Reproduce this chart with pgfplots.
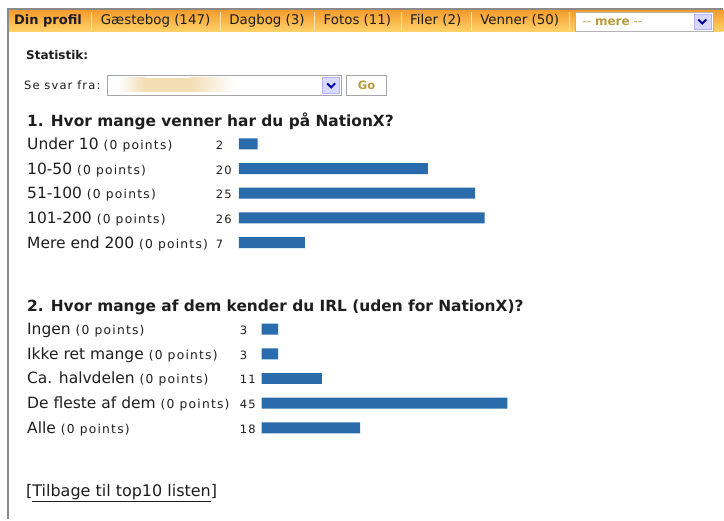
\documentclass[border=0pt]{standalone}
\usepackage{fontspec}
\setmainfont{DejaVu Sans}
\newfontfamily\smallfont{DejaVu Sans}[LetterSpace=10]
\usepackage{pgfplots}
\pgfplotsset{compat=1.18}
\usepackage{pgfplotstable}
\definecolor{barblue}{HTML}{2A6CAB}
\definecolor{navtop}{HTML}{F49B2C}
\definecolor{navbot}{HTML}{FFD36B}
\definecolor{sepcol}{HTML}{FFE6B0}
\definecolor{bordergray}{HTML}{8A8A8A}
\definecolor{txt}{HTML}{1E1E1E}
\definecolor{gold}{HTML}{B89C3C}
\definecolor{blurc}{HTML}{F3DDB5}
\newcommand\navsep{\hspace{9.5pt}{\color{sepcol}\rule[-6pt]{1pt}{19pt}}\hspace{8.5pt}}
\newcommand\pts{{\smallfont\fontsize{12.3}{14}\selectfont (0 points)}}
\newcommand\smallsz{\smallfont\fontsize{11.5}{13}\selectfont}

\pgfplotstableread{
y val
0 2
1 20
2 25
3 26
4 7
}\tableA
\pgfplotstableread{
y val
0 3
1 3
2 11
3 45
4 18
}\tableB

\pgfplotsset{
  webbar/.style={
    xbar, bar width=11pt, bar shift=0pt,
    scale only axis, height=123.5pt,
    ymin=-0.5, ymax=4.5, y dir=reverse,
    xmin=0, enlargelimits=false, clip=false,
    axis line style={draw=none}, tick style={draw=none},
    major tick length=0pt, xtick=\empty,
    ytick={0,1,2,3,4},
    yticklabel style={anchor=base west, inner sep=0pt, text=txt, font=\smallsz, yshift=-5.5pt},
  },
}

\begin{document}
\begin{tikzpicture}
\begin{scope}[x=1pt,y=1pt]
\fill[white] (0,0) rectangle (724,520);
% nav bar
\shade[top color=navtop, bottom color=navbot] (9,488) rectangle (724,510);
\draw[bordergray, line width=1.5pt] (8,0) -- (8,511) -- (724,511);
\node[anchor=base west, inner sep=0pt, text=txt, font=\fontsize{13.4}{15}\selectfont] at (14,495)
  {{\fontsize{13}{15}\selectfont\bfseries Din profil}\navsep G\ae stebog (147)\navsep Dagbog (3)\navsep Fotos (11)\navsep Filer (2)\navsep Venner (50)\navsep};
% dropdown
\draw[fill=white, draw=gray!60] (576,489) rectangle (714,508);
\node[anchor=base west, inner sep=0pt, text=gold, font=\fontsize{12}{14}\selectfont] at (583,494) {-{}- \textbf{mere} -{}-};
\draw[fill=blue!15, draw=blue!30] (695,491) rectangle (711.5,506);
\draw[blue!60!black, line width=2pt] (699,500.5) -- (703,496.5) -- (707,500.5);
% statistik
\node[anchor=base west, inner sep=0pt, text=txt, font=\fontsize{12}{14}\selectfont\bfseries] at (26,460) {Statistik:};
\node[anchor=base west, inner sep=0pt, text=txt, font=\smallsz] at (24,430) {Se svar fra:};
\draw[fill=white, draw=gray!70] (107,425) rectangle (342,445);
\shade[left color=white, right color=blurc] (118,428) rectangle (145,442);
\fill[blurc] (145,428) rectangle (190,442);
\shade[left color=blurc, right color=white] (190,428) rectangle (235,442);
\draw[fill=blue!15, draw=blue!30] (323,427) rectangle (340,443);
\draw[blue!60!black, line width=2pt] (327.5,436.5) -- (331.5,432.5) -- (335.5,436.5);
\draw[fill=white, draw=gray!70] (347,425) rectangle (387,445);
\node[text=gold, font=\fontsize{11.5}{13}\selectfont\bfseries] at (367,435) {Go};
% titles
\node[anchor=base west, inner sep=0pt, text=txt, font=\fontsize{15.4}{18}\selectfont\bfseries] at (27,393) {1. Hvor mange venner har du på NationX?};
\node[anchor=base west, inner sep=0pt, text=txt, font=\fontsize{15.4}{18}\selectfont\bfseries] at (27,208) {2. Hvor mange af dem kender du IRL (uden for NationX)?};
% link
\node[anchor=base west, inner sep=0pt, text=txt, font=\fontsize{16}{18}\selectfont] at (26,23) {[\underline{Tilbage til top10 listen}]};
\end{scope}

\begin{axis}[webbar, at={(239pt,388.3pt)}, anchor=north west,
  width=246pt, xmax=26,
  yticklabels from table={\tableA}{val},
  yticklabel style={xshift=-23pt},
  extra y ticks={0,1,2,3,4},
  extra y tick labels={Under 10 \pts, 10-50 \pts, 51-100 \pts, 101-200 \pts, Mere end 200 \pts},
  extra y tick style={yticklabel style={xshift=-189pt, font=\fontsize{15.5}{17}\selectfont}},
]
\addplot[fill=barblue, draw=none] table[x=val, y=y] {\tableA};
\end{axis}

\begin{axis}[webbar, at={(262pt,202.85pt)}, anchor=north west,
  width=246pt, xmax=45,
  yticklabels from table={\tableB}{val},
  yticklabel style={xshift=-22pt},
  extra y ticks={0,1,2,3,4},
  extra y tick labels={Ingen \pts, Ikke ret mange \pts, Ca. halvdelen \pts, De fleste af dem \pts, Alle \pts},
  extra y tick style={yticklabel style={xshift=-213pt, font=\fontsize{15.5}{17}\selectfont}},
]
\addplot[fill=barblue, draw=none] table[x=val, y=y] {\tableB};
\end{axis}
\end{tikzpicture}
\end{document}
